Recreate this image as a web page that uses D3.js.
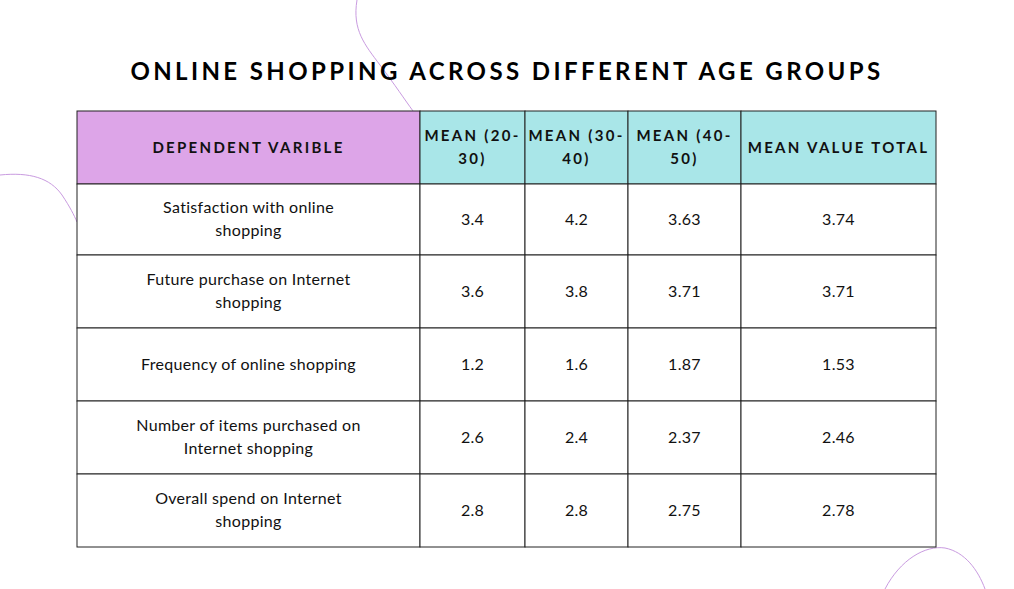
<!DOCTYPE html>
<html>
<head>
<meta charset="utf-8">
<script src="https://cdn.jsdelivr.net/npm/d3@7"></script>
<style>
  body { margin: 0; background: #fff; }
  svg { display: block; }
</style>
</head>
<body>
<svg id="chart"></svg>
<script>
const width = 1014, height = 589;

// data
const columns = ["DEPENDENT VARIBLE", "MEAN (20-\n30)", "MEAN (30-\n40)", "MEAN (40-\n50)", "MEAN VALUE TOTAL"];
const variables = [
  "Satisfaction with online\nshopping",
  "Future purchase on Internet\nshopping",
  "Frequency of online shopping",
  "Number of items purchased on\nInternet shopping",
  "Overall spend on Internet\nshopping"
];
const mean2030 = [3.4, 3.6, 1.2, 2.6, 2.8];
const mean3040 = [4.2, 3.8, 1.6, 2.4, 2.8];
const mean4050 = [3.63, 3.71, 1.87, 2.37, 2.75];
const meanTotal = [3.74, 3.71, 1.53, 2.46, 2.78];

const svg = d3.select("#chart").attr("width", width).attr("height", height);

// decorative curves
const deco = svg.append("g").attr("fill", "none").attr("stroke", "#c99be0").attr("stroke-width", 1);
deco.append("path").attr("d", "M357,0 C352,30 365,45 380,65 C395,85 405,100 413,111");
deco.append("path").attr("d", "M0,175 C30,172 50,178 62,195 C70,207 74,215 77,222");
deco.append("path").attr("d", "M885,589 C900,560 925,545 945,548 C965,552 978,570 985,589");

svg.append("text")
  .attr("x", 507).attr("y", 80)
  .attr("text-anchor", "middle")
  .style("font-family", "Lato, sans-serif")
  .style("font-weight", "700")
  .style("font-size", "24px")
  .style("letter-spacing", "3.4px")
  .text("ONLINE SHOPPING ACROSS DIFFERENT AGE GROUPS");

// column edges and row edges of the table
const colEdges = [77, 420, 525, 628, 741, 936];
const rowEdges = [111, 184, 255, 328, 401, 474, 547];

const rows = variables.map((v, i) => [v, mean2030[i], mean3040[i], mean4050[i], meanTotal[i]]);

const cells = [];
columns.forEach((c, j) => cells.push({ r: 0, c: j, text: c, header: true }));
rows.forEach((row, i) => row.forEach((v, j) => cells.push({ r: i + 1, c: j, text: String(v), header: false })));

const g = svg.append("g");

g.selectAll("rect")
  .data(cells)
  .join("rect")
  .attr("x", d => colEdges[d.c])
  .attr("y", d => rowEdges[d.r])
  .attr("width", d => colEdges[d.c + 1] - colEdges[d.c])
  .attr("height", d => rowEdges[d.r + 1] - rowEdges[d.r])
  .attr("fill", d => d.header ? (d.c === 0 ? "#dda5e8" : "#a9e6e8") : "#fff")
  .attr("stroke", "#222")
  .attr("stroke-width", 1);

const texts = g.selectAll("text.cell")
  .data(cells)
  .join("text")
  .attr("class", "cell")
  .attr("text-anchor", "middle")
  .style("font-family", "Lato, sans-serif")
  .style("font-size", d => d.header ? "15px" : "16px")
  .style("font-weight", d => d.header ? "700" : "400")
  .style("letter-spacing", d => d.header ? "2.3px" : "0.3px")
  .attr("fill", "#111");

texts.each(function (d) {
  const lines = d.text.split("\n");
  const cx = (colEdges[d.c] + colEdges[d.c + 1]) / 2;
  const cy = (rowEdges[d.r] + rowEdges[d.r + 1]) / 2;
  const lh = 23;
  const y0 = cy - (lines.length - 1) * lh / 2 + 5;
  d3.select(this).selectAll("tspan")
    .data(lines)
    .join("tspan")
    .attr("x", cx)
    .attr("y", (l, k) => y0 + k * lh)
    .text(l => l);
});
</script>
</body>
</html>
